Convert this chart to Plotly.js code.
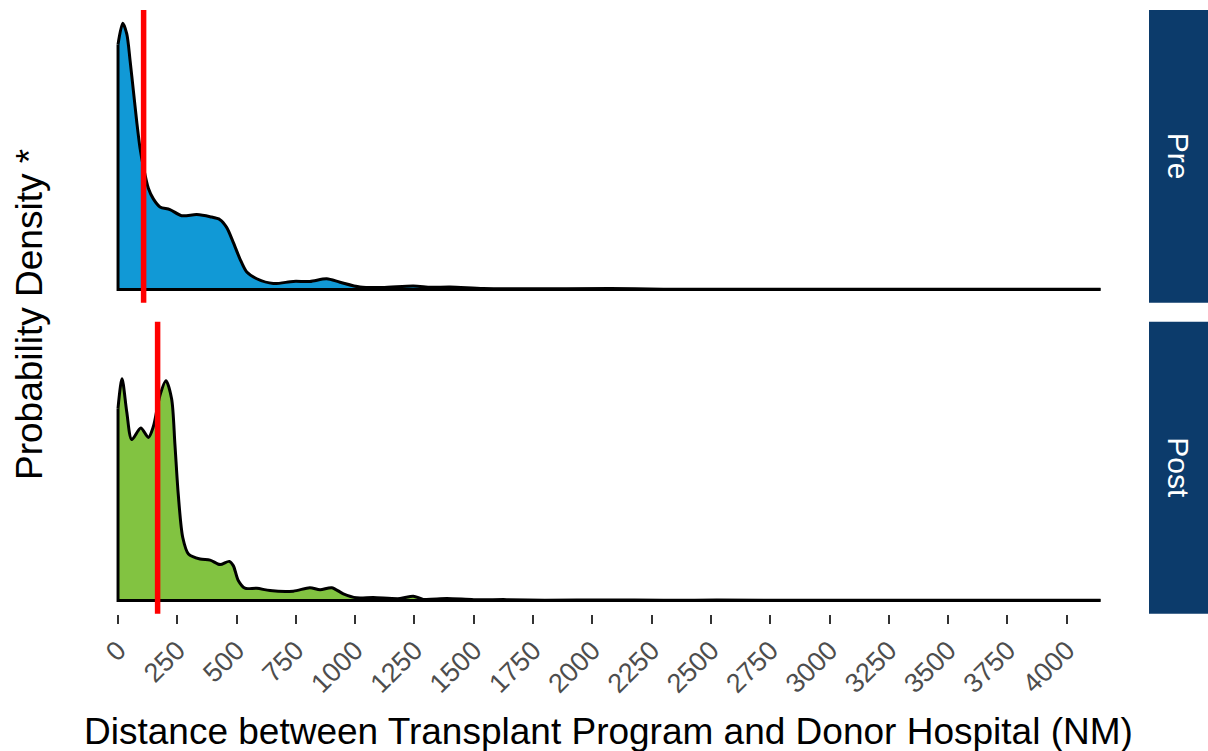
<!DOCTYPE html>
<html>
<head>
<meta charset="utf-8">
<script src="https://cdn.plot.ly/plotly-3.0.1.min.js"></script>
<style>html,body{margin:0;padding:0;background:#fff;}#chart{width:1208px;height:751px;}</style>
</head>
<body>
<div id="chart"></div>
<script>
// ---- data ----
var panels = ["Pre", "Post"];

var distPre = [0, 20, 37, 51, 65, 79, 93, 107, 128, 149, 177, 219, 268, 332, 388, 430, 458, 486, 514, 543, 585, 655, 739, 809, 880, 936, 1020, 1114, 1245, 1320, 1400, 1540, 1700, 2074, 2300, 2600, 3000, 3500, 4143];
var densPre = [0.92, 1.0, 0.96, 0.86, 0.745, 0.63, 0.53, 0.46, 0.38, 0.34, 0.31, 0.30, 0.277, 0.281, 0.273, 0.262, 0.233, 0.177, 0.115, 0.065, 0.04, 0.022, 0.03, 0.03, 0.04, 0.027, 0.009, 0.007, 0.013, 0.008, 0.009, 0.003, 0.002, 0.003, 0.001, 0.001, 0.0008, 0.0005, 0.0003];

var distPost = [0, 17, 37, 58, 96, 128, 149, 177, 202, 226, 240, 254, 273, 297, 346, 388, 430, 469, 486, 507, 535, 585, 641, 739, 809, 852, 901, 950, 1006, 1076, 1189, 1245, 1287, 1386, 1500, 1639, 1800, 2060, 2300, 2524, 3000, 3500, 4143];
var densPost = [0.724, 0.835, 0.71, 0.606, 0.65, 0.614, 0.655, 0.773, 0.828, 0.76, 0.588, 0.40, 0.237, 0.175, 0.156, 0.152, 0.135, 0.147, 0.131, 0.075, 0.046, 0.046, 0.037, 0.035, 0.048, 0.04, 0.048, 0.025, 0.01, 0.011, 0.007, 0.016, 0.004, 0.007, 0.003, 0.003, 0.001, 0.002, 0.0008, 0.0012, 0.0005, 0.0004, 0.0003];

var medianPre = 108;
var medianPost = 167;

var tickValues = [0, 250, 500, 750, 1000, 1250, 1500, 1750, 2000, 2250, 2500, 2750, 3000, 3250, 3500, 3750, 4000];
var tickLabels = ["0", "250", "500", "750", "1000", "1250", "1500", "1750", "2000", "2250", "2500", "2750", "3000", "3250", "3500", "3750", "4000"];

var xTitle = "Distance between Transplant Program and Donor Hospital (NM)";
var yTitle = "Probability Density *";

// ---- styling ----
var W = 1208, H = 751;
var FONT = "Liberation Sans, Arial, Helvetica, sans-serif";
var fillPre = "#1199D6", fillPost = "#82C341", stripCol = "#0C3B6B";

function px2paperY(p) { return 1 - p / H; }
var xDom = [116.1 / W, 1100.7 / W];
var yDomTop = [px2paperY(302.7), px2paperY(10)];
var yDomBot = [px2paperY(613.7), px2paperY(321.7)];

var dmax = Math.max.apply(null, densPre.concat(densPost));
var yRange = [-0.05 * dmax, 1.05 * dmax];
var xRange = [-8, distPre[distPre.length - 1]];

function densityTraces(xs, ys, fill, xa, ya) {
  var n = xs.length;
  return [
    {x: xs, y: ys, type: "scatter", mode: "lines", fill: "tozeroy", fillcolor: fill,
     line: {color: "#000", width: 3, shape: "spline", smoothing: 0.8}, xaxis: xa, yaxis: ya, hoverinfo: "skip"},
    {x: [xs[0], xs[0], xs[n - 1]], y: [ys[0], 0, 0], type: "scatter", mode: "lines",
     line: {color: "#000", width: 3}, xaxis: xa, yaxis: ya, hoverinfo: "skip"}
  ];
}

var data = [].concat(
  densityTraces(distPre, densPre, fillPre, "x2", "y"),
  densityTraces(distPost, densPost, fillPost, "x", "y2")
);

var shapes = [
  {type: "line", xref: "x2", yref: "y domain", x0: medianPre, x1: medianPre, y0: 0, y1: 1, line: {color: "#FF0000", width: 5.5}},
  {type: "line", xref: "x", yref: "y2 domain", x0: medianPost, x1: medianPost, y0: 0, y1: 1, line: {color: "#FF0000", width: 5.5}},
  {type: "rect", xref: "paper", yref: "paper", x0: 1149 / W, x1: 1, y0: yDomTop[0], y1: yDomTop[1], fillcolor: stripCol, line: {width: 0}},
  {type: "rect", xref: "paper", yref: "paper", x0: 1149 / W, x1: 1, y0: yDomBot[0], y1: yDomBot[1], fillcolor: stripCol, line: {width: 0}}
];

var annotations = [
  {text: panels[0], xref: "paper", yref: "paper", x: 1178.5 / W, y: (yDomTop[0] + yDomTop[1]) / 2, showarrow: false, textangle: 90,
   font: {family: FONT, size: 30, color: "#fff"}, xanchor: "center", yanchor: "middle"},
  {text: panels[1], xref: "paper", yref: "paper", x: 1178.5 / W, y: (yDomBot[0] + yDomBot[1]) / 2, showarrow: false, textangle: 90,
   font: {family: FONT, size: 30, color: "#fff"}, xanchor: "center", yanchor: "middle"},
  {text: yTitle, xref: "paper", yref: "paper", x: 29 / W, y: px2paperY(315), showarrow: false, textangle: -90,
   font: {family: FONT, size: 37, color: "#000"}, xanchor: "center", yanchor: "middle"},
  {text: xTitle, xref: "paper", yref: "paper", x: 608 / W, y: px2paperY(731), showarrow: false,
   font: {family: FONT, size: 37, color: "#000"}, xanchor: "center", yanchor: "middle"}
];

var axisCommon = {range: xRange, domain: xDom, showgrid: false, zeroline: false, showline: false, fixedrange: true};

var layout = {
  width: W, height: H,
  margin: {l: 0, r: 0, t: 0, b: 0},
  paper_bgcolor: "#fff", plot_bgcolor: "#fff",
  showlegend: false,
  font: {family: FONT},
  xaxis: Object.assign({}, axisCommon, {anchor: "y2", tickmode: "array", tickvals: tickValues, ticktext: tickLabels,
    ticks: "outside", ticklen: 9, tickwidth: 2, tickcolor: "#333", tickangle: -45, ticklabelstandoff: 0,
    tickfont: {family: FONT, size: 27, color: "#4D4D4D"}}),
  xaxis2: Object.assign({}, axisCommon, {anchor: "y", showticklabels: false, ticks: "", matches: "x"}),
  yaxis: {domain: yDomTop, range: yRange, showgrid: false, zeroline: false, showline: false, showticklabels: false, ticks: "", anchor: "x2", fixedrange: true},
  yaxis2: {domain: yDomBot, range: yRange, showgrid: false, zeroline: false, showline: false, showticklabels: false, ticks: "", anchor: "x", fixedrange: true},
  shapes: shapes,
  annotations: annotations
};

Plotly.newPlot("chart", data, layout, {displayModeBar: false, staticPlot: true});
</script>
</body>
</html>
